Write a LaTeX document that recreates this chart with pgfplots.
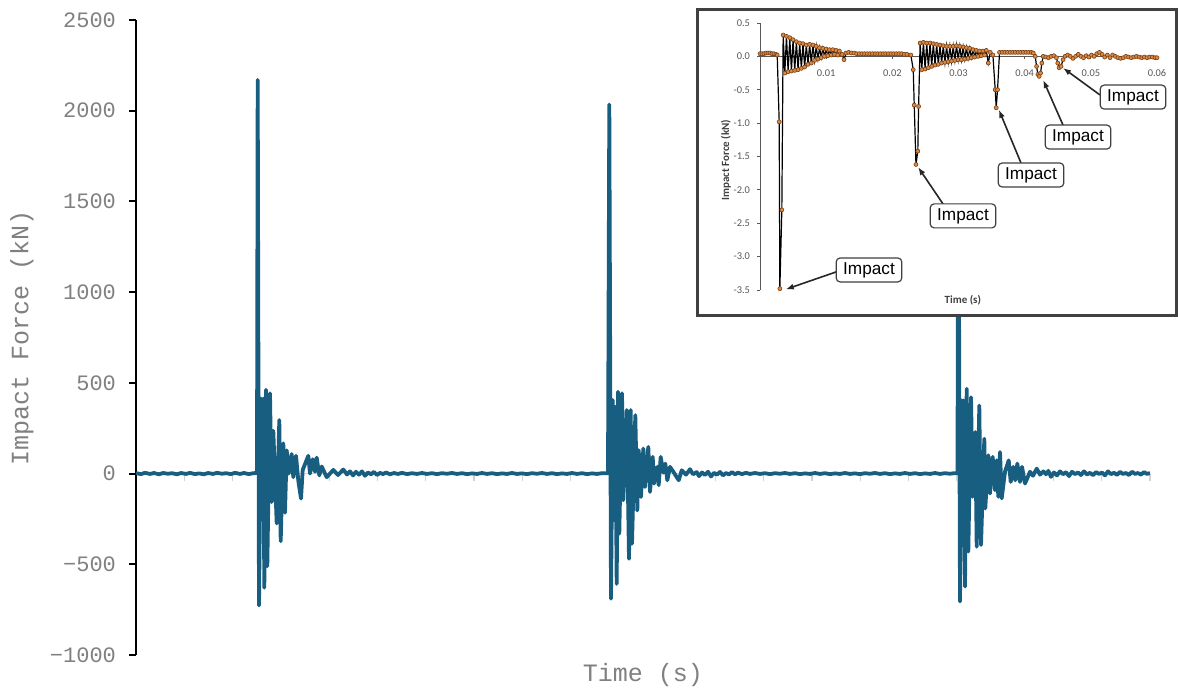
\documentclass[border=0pt]{standalone}
\usepackage{fontspec}
\usepackage{pgfplots}
\pgfplotsset{compat=1.18}
\usetikzlibrary{arrows.meta}
\newfontfamily\monofnt{Liberation Mono}
\newfontfamily\calfnt{Carlito}
\newfontfamily\arialfnt{Liberation Sans}
\definecolor{mainblue}{HTML}{185E80}
\definecolor{tickgray}{HTML}{808080}
\definecolor{framegray}{HTML}{404040}
\definecolor{insettick}{HTML}{595959}
\definecolor{mkfill}{HTML}{D98A45}
\definecolor{mkdraw}{HTML}{7A3E12}
\tikzset{impbox/.style={draw=framegray, fill=white, rounded corners=2pt, line width=0.6pt,
  font=\arialfnt\fontsize{8.6}{10}\selectfont, inner xsep=3.5pt, inner ysep=0pt, minimum height=12pt},
  imparrow/.style={-{Latex[length=4pt,width=3pt]}, line width=0.8pt, black!85}}
\begin{document}
\begin{tikzpicture}
\useasboundingbox (0,0) rectangle (589pt,344.5pt);
\begin{axis}[
  at={(68pt,17pt)}, anchor=south west,
  scale only axis, width=507pt, height=317.5pt,
  xmin=0, xmax=1014, ymin=-1000, ymax=2500,
  axis x line=middle, axis y line=left,
  x axis line style={gray!35, line width=0.6pt, -},
  y axis line style={black, line width=1pt, -},
  tick align=outside,
  xtick distance=48.2857,
  xticklabels={},
  x tick style={gray!35, line width=0.6pt},
  major tick length=3.5pt,
  ytick={-1000,-500,0,500,1000,1500,2000,2500},
  yticklabels={−1000,−500,0,500,1000,1500,2000,2500},
  y tick style={black, line width=1pt},
  yticklabel style={font=\monofnt\fontsize{11}{13}\selectfont, text=tickgray, xshift=-3pt},
  xlabel={Time (s)}, ylabel={Impact Force (kN)},
  label style={font=\monofnt\fontsize{12.5}{14}\selectfont, text=tickgray},
  xlabel style={at={(axis description cs:0.5,-0.0315)}, anchor=center},
  ylabel style={at={(axis description cs:-0.1124,0.5)}, anchor=center},
]
\addplot[mainblue, line width=1.9pt, line join=round, no markers] coordinates {
(0,2) (5,-3) (9,4) (14,-2) (18,3) (23,-4) (27,3) (32,-1) (36,2) (41,-4) (45,3) (50,-2) (54,4) (59,-3) (63,1) (68,-4) (72,3) (77,-2) (81,4) (86,-1) (90,2) (95,-3) (99,4) (104,-2) (108,3) (113,-3) (117,2) (121,3)
(121.7,2170) (123,-727) (125,413) (126.3,-255) (127.3,413) (128.3,-629) (130,462) (131.3,-511) (134,442) (135.7,-157) (137.3,236) (140.7,-275) (143.3,295) (144.7,-373) (147.3,167) (149,-216) (150.7,128) (152.7,0) (155.7,108) (157.3,-20) (160,98) (162.3,-39) (165,-138) (166.7,20) (172.3,98) (174,0) (176.7,79) (179,10) (180.7,88) (183.3,-10) (185.7,39) (190.7,-20) (197.3,20) (202,-8) (207.3,22) (211,-5)
(214,12) (217,-10) (220,10) (223,-6) (226,12) (229,-12) (232,6) (235,-4) (238,9) (241,-8) (244,4) (247,-3) (250,6) (254,-4) (258,3) (262,-2) (266,4) (271,-3) (276,2) (281,-2) (286,3) (291,-2) (296,2) (301,-3) (306,2) (311,-1) (316,3) (321,-2) (326,2) (331,-3) (336,1) (341,-2) (346,3) (351,-2) (356,2) (361,-3) (366,1) (371,-2) (376,3) (381,-2) (386,1) (391,-3) (396,2) (401,-1) (406,3) (411,-2) (416,2) (421,-3) (426,1) (431,-2) (436,3) (441,-2) (446,2) (451,-3) (456,1) (461,-2) (466,2) (472,2)
(473.3,2034) (475,-690) (476.7,405) (478.3,-258) (479.3,368) (480.7,-608) (482,451) (483.3,-331) (486,442) (487.3,-147) (490.7,350) (493,-470) (494.7,350) (496,-387) (499.3,322) (501.3,-203) (502.7,129) (505,-129) (507.3,138) (509,-74) (512.3,147) (514,-101) (516.7,92) (518,-55) (521.3,37) (522.7,-64) (524.7,92) (527.3,5) (529.3,55) (531.3,-37) (534,37) (537.3,10) (542.7,-37) (545.7,18) (550,-6) (554,24) (557,-4) (560.7,8)
(563,-14) (566,6) (569,-8) (572,10) (575,-16) (578,4) (581,-6) (584,9) (587,-10) (590,3) (593,-5) (596,8) (599,-4) (602,5) (606,-3) (610,4) (614,-2) (619,3) (624,-2) (629,2) (634,-3) (639,2) (644,-1) (649,3) (654,-2) (659,2) (664,-3) (669,1) (674,-2) (679,3) (684,-2) (689,2) (694,-3) (699,1) (704,-2) (709,3) (714,-2) (719,1) (724,-3) (729,2) (734,-1) (739,3) (744,-2) (749,2) (754,-3) (759,1) (764,-2) (769,3) (774,-2) (779,2) (784,-3) (789,1) (794,-2) (799,3) (804,-2) (809,2) (814,-1) (818,2) (821.5,2)
(822.3,2100) (824,-705) (825.7,403) (826.7,-256) (827.3,403) (829,-623) (830.7,467) (832.3,-430) (835,421) (836.7,-128) (839.3,229) (840.7,-403) (843.3,375) (845,-394) (848.3,192) (849.3,-192) (852.3,101) (854,-110) (856.7,92) (859,-92) (860.7,73) (862.3,-128) (864,119) (865.7,-137) (869,10) (872.7,73) (874.7,-46) (877.3,37) (879.3,-37) (881.3,55) (884,-46) (886,37) (889,-55) (894,10) (897,-12) (900.7,27) (904,-6) (907.3,12) (910,-4) (912.3,15)
(915,-18) (918,6) (921,-10) (924,12) (927,-4) (930,8) (933,-14) (936,10) (939,-3) (942,6) (945,-8) (948,12) (951,-5) (954,4) (957,-9) (960,8) (963,-2) (966,5) (969,-10) (972,12) (975,-3) (978,4) (981,-7) (984,9) (987,-2) (990,3) (993,-8) (996,10) (999,-2) (1002,3) (1005,-6) (1008,8) (1011,-2) (1014,3)
};
\end{axis}
\draw[framegray, line width=1.5pt, fill=white] (348.5pt,186.5pt) rectangle (588pt,339.5pt);
\begin{axis}[
  at={(380pt,199.5pt)}, anchor=south west,
  scale only axis, width=198.5pt, height=133.5pt,
  xmin=0, xmax=0.06, ymin=-3.5, ymax=0.5, clip=false,
  axis x line=middle, axis y line=left,
  axis line style={-, insettick, line width=0.5pt},
  tick align=outside, major tick length=1.5pt,
  tick style={insettick, line width=0.4pt},
  xtick={0,0.01,0.02,0.03,0.04,0.05,0.06},
  xticklabels={0,0.01,0.02,0.03,0.04,0.05,0.06},
  ytick={-3.5,-3,-2.5,-2,-1.5,-1,-0.5,0,0.5},
  yticklabels={-3.5,-3.0,-2.5,-2.0,-1.5,-1.0,-0.5,0.0,0.5},
  tick label style={font=\calfnt\fontsize{5.2}{6}\selectfont, text=insettick},
  xticklabel style={yshift=-1.5pt},
  xlabel={Time (s)}, ylabel={Impact Force (kN)},
  label style={font=\calfnt\bfseries\fontsize{5.5}{6.5}\selectfont, text=framegray},
  xlabel style={at={(axis description cs:0.511,-0.0375)}, anchor=center},
  ylabel style={at={(axis description cs:-0.0856,0.487)}, anchor=center},
]
\addplot[black, line width=0.6pt, mark=*, mark size=1pt, mark options={fill=mkfill, draw=mkdraw, line width=0.3pt}] coordinates {
(0,0.04) (0.0003,0.04) (0.0006,0.04) (0.0009,0.05) (0.0012,0.05) (0.0015,0.05) (0.0018,0.04) (0.0021,0.04) (0.0024,0.03) (0.0026,0.02)
(0.0029,-0.98) (0.0030,-3.48) (0.0033,-2.3) (0.0035,0.32)
(0.00375,-0.25) (0.0040,0.30) (0.00425,-0.23) (0.0045,0.28) (0.00475,-0.22) (0.0050,0.25) (0.00525,-0.21) (0.0055,0.22) (0.00575,-0.2) (0.0060,0.2) (0.00625,-0.18) (0.0065,0.19) (0.00675,-0.16) (0.0070,0.17) (0.00725,-0.12) (0.0075,0.18) (0.00775,-0.1) (0.0080,0.17) (0.00825,-0.06) (0.0085,0.15) (0.00875,-0.04) (0.0090,0.13) (0.00925,-0.02) (0.0095,0.12) (0.00975,0.0) (0.0100,0.11) (0.01025,0.01) (0.0105,0.1) (0.01075,0.02) (0.0110,0.1) (0.01125,0.03) (0.0115,0.09) (0.01175,0.02) (0.0120,0.08) (0.0124,0.03) (0.0127,-0.05) (0.0130,0.05)
(0.0134,0.06) (0.0138,0.05) (0.0142,0.05) (0.0146,0.04) (0.015,0.04) (0.0154,0.04) (0.0158,0.04) (0.0162,0.04) (0.0166,0.04) (0.017,0.04) (0.0174,0.04) (0.0178,0.04) (0.0182,0.04) (0.0186,0.04) (0.019,0.04) (0.0194,0.04) (0.0198,0.04) (0.0202,0.04) (0.0206,0.04) (0.021,0.04) (0.0214,0.04) (0.0218,0.03) (0.0222,0.03) (0.0228,0.02)
(0.02316,-0.2) (0.02331,-0.73) (0.02357,-1.62) (0.02385,-1.42) (0.02397,-0.75) (0.0242,0.2)
(0.02445,-0.2) (0.0247,0.21) (0.02495,-0.19) (0.0252,0.2) (0.02545,-0.17) (0.0257,0.2) (0.02595,-0.15) (0.0262,0.19) (0.02645,-0.13) (0.0267,0.18) (0.02695,-0.12) (0.0272,0.17) (0.02745,-0.1) (0.0277,0.16) (0.02795,-0.09) (0.0282,0.15) (0.02845,-0.08) (0.0287,0.15) (0.02895,-0.07) (0.0292,0.15) (0.02945,-0.06) (0.0297,0.16) (0.02995,-0.05) (0.0302,0.15) (0.03045,-0.05) (0.0307,0.14) (0.03095,-0.04) (0.0312,0.13) (0.03145,-0.03) (0.0317,0.12) (0.03195,-0.02) (0.0322,0.1) (0.03245,-0.01) (0.0327,0.09) (0.03295,0.0) (0.0332,0.08) (0.03345,0.01) (0.0337,0.08) (0.03395,0.02) (0.0342,0.09) (0.0345,-0.1) (0.0348,0.06)
(0.0352,0.02) (0.03555,-0.5) (0.0357,-0.77) (0.0359,-0.5) (0.0362,0.06)
(0.0366,0.06) (0.037,0.06) (0.0374,0.06) (0.0378,0.06) (0.0382,0.06) (0.0386,0.06) (0.039,0.06) (0.0394,0.06) (0.0398,0.06) (0.0402,0.06) (0.0406,0.06) (0.041,0.06) (0.0413,0.05)
(0.0416,0.0) (0.0418,-0.15) (0.042,-0.27) (0.0422,-0.3) (0.0424,-0.25) (0.0426,-0.1) (0.0428,0.0)
(0.0432,-0.01) (0.0436,-0.02) (0.044,0.0) (0.0444,0.01)
(0.0448,-0.02) (0.045,-0.1) (0.0452,-0.17) (0.0455,-0.15) (0.0458,-0.05) (0.0461,0.0)
(0.0465,0.02) (0.0469,0.0) (0.0473,-0.03) (0.0477,0.0) (0.0481,0.03) (0.0485,0.0) (0.0489,-0.02) (0.0493,0.01) (0.0497,-0.01) (0.0501,0.02) (0.0505,0.0) (0.0509,0.04) (0.0513,0.06) (0.0517,0.03) (0.0521,-0.01) (0.0525,0.02) (0.0529,-0.02) (0.0533,0.02) (0.0537,0.0) (0.0541,-0.02) (0.0545,-0.03) (0.0549,-0.02) (0.0553,0.0) (0.0557,-0.01) (0.0561,-0.02) (0.0565,-0.01) (0.0569,0.0) (0.0573,-0.01) (0.0577,-0.02) (0.0581,-0.01) (0.0585,-0.02) (0.0589,-0.01) (0.0593,-0.01) (0.0597,-0.02) (0.06,-0.02)
};
\draw[imparrow] (axis cs:0.01149,-3.23) -- (axis cs:0.0039,-3.49);
\draw[imparrow] (axis cs:0.02766,-2.211) -- (axis cs:0.0239,-1.66);
\draw[imparrow] (axis cs:0.03944,-1.596) -- (axis cs:0.0361,-0.80);
\draw[imparrow] (axis cs:0.04579,-1.028) -- (axis cs:0.0428,-0.354);
\draw[imparrow] (axis cs:0.05138,-0.578) -- (axis cs:0.0458,-0.174);
\node[impbox] at (axis cs:0.01647,-3.20) {Impact};
\node[impbox] at (axis cs:0.03068,-2.39) {Impact};
\node[impbox] at (axis cs:0.04096,-1.777) {Impact};
\node[impbox] at (axis cs:0.04806,-1.209) {Impact};
\node[impbox] at (axis cs:0.05637,-0.61) {Impact};
\end{axis}
\end{tikzpicture}
\end{document}
